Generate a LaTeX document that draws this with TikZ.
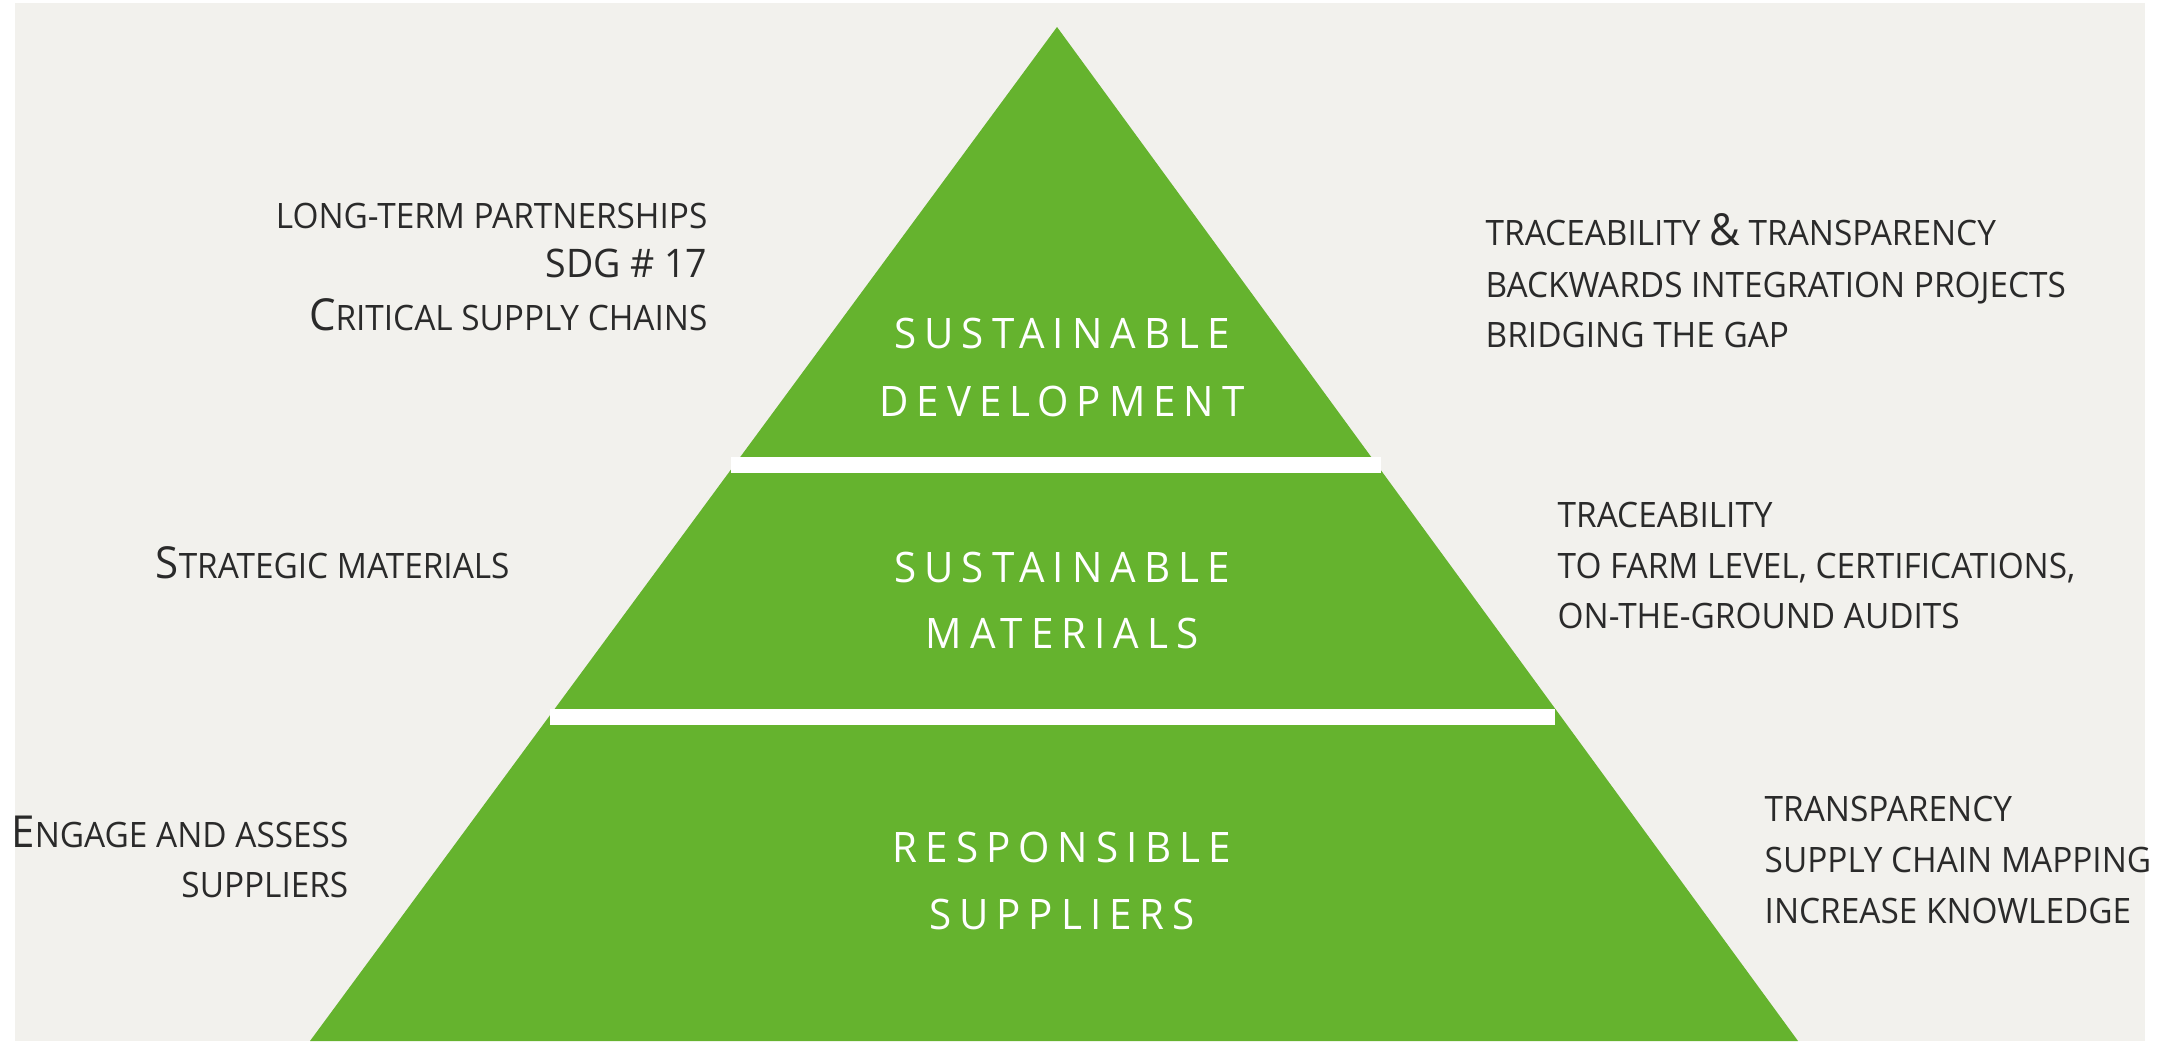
\documentclass[tikz,border=0pt]{standalone}
\usepackage{fontspec}
\setmainfont{Open Sans}[FakeStretch=0.953]
\newfontfamily\lblfont{Open Sans}[LetterSpace=19,FakeStretch=0.96]
\definecolor{bgbeige}{HTML}{F2F1ED}
\definecolor{pgreen}{HTML}{65B32E}
\definecolor{txtgray}{HTML}{2A2A2A}
\newcommand\smc[1]{{\fontsize{9.96pt}{12pt}\selectfont #1}}
\newcommand\bgc[1]{{\fontsize{12.55pt}{15pt}\selectfont #1}}
\tikzset{
  txt/.style={inner sep=0pt, text=txtgray},
  lbl/.style={inner sep=0pt, text=white, font=\lblfont\fontsize{11.95pt}{14pt}\selectfont, anchor=base},
  bar/.style={fill=white, draw=none}
}
\begin{document}
\begin{tikzpicture}[x=0.1mm,y=-0.1mm]
\useasboundingbox (0,0) rectangle (2161,1041);
\fill[white] (0,0) rectangle (2161,1041);
\fill[bgbeige] (15,3) rectangle (2145,1041);
% pyramid
\coordinate (apex) at (1057,27);
\coordinate (bl) at (310,1041);
\coordinate (br) at (1798,1041);
\fill[pgreen] (apex) -- (bl) -- (br) -- cycle;
\fill[bar] (731,457) rectangle (1381,472.5);
\fill[bar] (550,709) rectangle (1555,725);
% pyramid labels
\node[lbl] (sd1) at (1062,348) {SUSTAINABLE};
\node[lbl] (sd2) at (1062,416) {DEVELOPMENT};
\node[lbl] (sm1) at (1062,582) {SUSTAINABLE};
\node[lbl] (sm2) at (1062,648) {MATERIALS};
\node[lbl] (rs1) at (1062,862) {RESPONSIBLE};
\node[lbl] (rs2) at (1062,929) {SUPPLIERS};
% left texts
\node[txt, anchor=base east] (lt1) at (708,228) {\smc{LONG-TERM PARTNERSHIPS}};
\node[txt, anchor=base east] (lt2) at (708,277) {{\fontsize{11.2pt}{13pt}\selectfont SDG \# 17}};
\node[txt, anchor=base east] (lt3) at (708,330) {\bgc{C}\smc{RITICAL SUPPLY CHAINS}};
\node[txt, anchor=base west] (lm1) at (155,578) {\bgc{S}\smc{TRATEGIC MATERIALS}};
\node[txt, anchor=base east] (lb1) at (349,847) {\bgc{E}\smc{NGAGE AND ASSESS}};
\node[txt, anchor=base east] (lb2) at (349,897) {\smc{SUPPLIERS}};
% right texts
\node[txt, anchor=base west] (rt1) at (1485,245) {\smc{TRACEABILITY} \bgc{\&} \smc{TRANSPARENCY}};
\node[txt, anchor=base west] (rt2) at (1485,297) {\smc{BACKWARDS INTEGRATION PROJECTS}};
\node[txt, anchor=base west] (rt3) at (1485,347) {\smc{BRIDGING THE GAP}};
\node[txt, anchor=base west] (rm1) at (1557,527) {\smc{TRACEABILITY}};
\node[txt, anchor=base west] (rm2) at (1557,578) {\smc{TO FARM LEVEL, CERTIFICATIONS,}};
\node[txt, anchor=base west] (rm3) at (1557,628) {\smc{ON-THE-GROUND AUDITS}};
\node[txt, anchor=base west] (rb1) at (1764,821) {\smc{TRANSPARENCY}};
\node[txt, anchor=base west] (rb2) at (1764,872) {\smc{SUPPLY CHAIN MAPPING}};
\node[txt, anchor=base west] (rb3) at (1764,923) {\smc{INCREASE KNOWLEDGE}};
\end{tikzpicture}
\end{document}
